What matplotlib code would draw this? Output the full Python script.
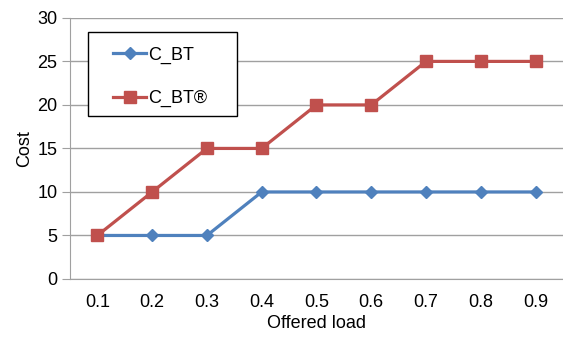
import matplotlib.pyplot as plt
from matplotlib.patches import Rectangle

# 数据
loads = ['0.1', '0.2', '0.3', '0.4', '0.5', '0.6', '0.7', '0.8', '0.9']
cost_bt = [5, 5, 5, 10, 10, 10, 10, 10, 10]
cost_bt_r = [5, 10, 15, 15, 20, 20, 25, 25, 25]

plt.rcParams['font.family'] = ['Liberation Sans', 'DejaVu Sans']
fs = 13

fig = plt.figure(figsize=(5.63, 3.44), dpi=100)
ax = fig.add_axes([0.1243, 0.189, 0.8757, 0.759])

x = range(len(loads))
ax.plot(x, cost_bt, color='#4F81BD', lw=2.3, marker='D', markersize=6.5,
        label='C_BT')
ax.plot(x, cost_bt_r, color='#C0504D', lw=2.3, marker='s', markersize=8.5,
        label='C_BT®')

ax.set_xlim(-0.5, len(loads) - 0.5)
ax.set_ylim(0, 30)
ax.set_yticks(range(0, 31, 5))
ax.set_xticks(list(x))
ax.set_xticklabels(loads)
ax.yaxis.grid(True, color='#A0A0A0', lw=1)
ax.set_axisbelow(True)

for s in ['top', 'right']:
    ax.spines[s].set_visible(False)
ax.spines['left'].set_color('#A0A0A0')
ax.spines['bottom'].set_color('#A0A0A0')
ax.tick_params(axis='y', length=6, color='#A0A0A0', labelsize=fs, pad=3)
ax.tick_params(axis='x', length=0, labelsize=fs, pad=11)

ax.set_xlabel('Offered load', fontsize=fs, labelpad=3)
ax.set_ylabel('Cost', fontsize=fs, labelpad=3)

# 图例框
box = Rectangle((0.0365, 0.6245), 0.302, 0.3218, transform=ax.transAxes,
                facecolor='white', edgecolor='black', lw=1, zorder=3)
ax.add_patch(box)
leg = ax.legend(loc='upper left', bbox_to_anchor=(0.0872, 0.89),
                fontsize=fs, frameon=False, labelspacing=1.45,
                handlelength=1.85, handletextpad=0.1, borderpad=0,
                borderaxespad=0)
leg.set_zorder(4)

fig.savefig('out.png', dpi=100)
